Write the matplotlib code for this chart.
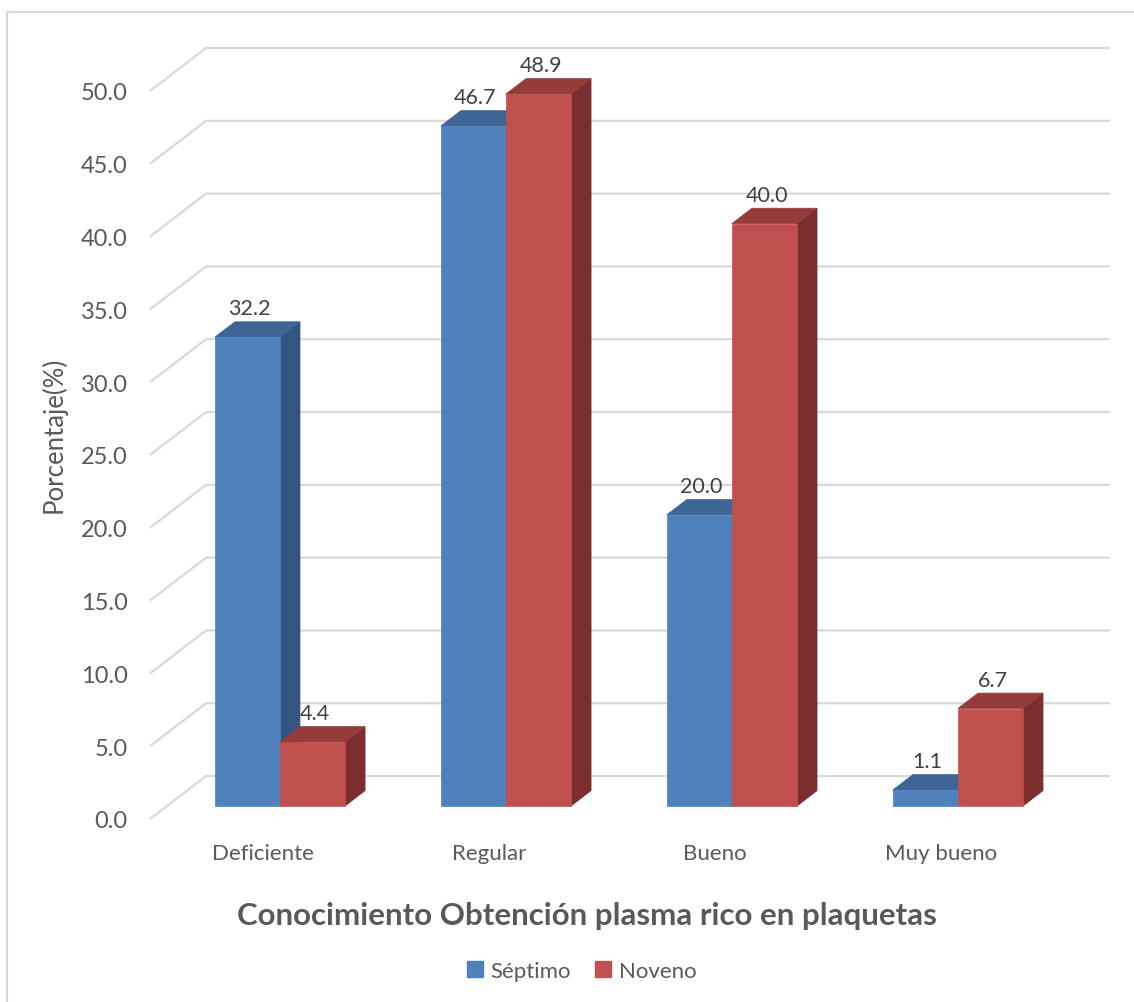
import numpy as np
import matplotlib.pyplot as plt
from matplotlib.patches import Polygon
from matplotlib.lines import Line2D

plt.rcParams['font.family'] = ['Lato', 'DejaVu Sans']

categorias = ['Deficiente', 'Regular', 'Bueno', 'Muy bueno']
septimo = [32.2, 46.7, 20.0, 1.1]
noveno = [4.4, 48.9, 40.0, 6.7]
series = ['Séptimo', 'Noveno']
yticks = np.arange(0, 50.1, 5)

# colours: front, top, side faces
col_sep = ('#4F81BD', '#3D6695', '#34557F')
col_nov = ('#C0504D', '#953B39', '#7B2E2D')

# oblique depth of the plot box, in data units
DX = 0.248
DY = 2.95
# bars sit between these depth fractions
D0, D1 = 0.30, 0.66
BW = 0.288

fig = plt.figure(figsize=(11.34, 10.03), dpi=100)
W, H = 1134, 1003
ax = fig.add_axes([150 / W, 1 - 820 / H, 960 / W, 771 / H])
ax.set_xlim(-0.5, 3.5 + DX)
ax.set_ylim(0, 50 + DY)
for s in ax.spines.values():
    s.set_visible(False)

gris = '#d9d9d9'
for v in yticks:
    ax.plot([-0.5, -0.5 + DX, 3.5 + DX], [v, v + DY, v + DY], color=gris,
            lw=1.6, zorder=1, solid_capstyle='butt', clip_on=False)

ax.set_yticks(yticks)
ax.set_yticklabels(['%.1f' % v for v in yticks], fontsize=17, color='#595959')
ax.tick_params(axis='y', length=0, pad=16)
ax.set_xticks(range(len(categorias)))
ax.set_xticklabels(categorias, fontsize=16, color='#595959')
ax.tick_params(axis='x', length=0, pad=17)
ax.set_ylabel('Porcentaje(%)', fontsize=18.5, color='#595959', labelpad=10)


def bar3d(x0, v, cols, z):
    f, t, s = cols
    ox0, oy0 = D0 * DX, D0 * DY
    ox1, oy1 = D1 * DX, D1 * DY
    x1 = x0 + BW
    front = [(x0 + ox0, oy0), (x1 + ox0, oy0), (x1 + ox0, v + oy0), (x0 + ox0, v + oy0)]
    top = [(x0 + ox0, v + oy0), (x1 + ox0, v + oy0), (x1 + ox1, v + oy1), (x0 + ox1, v + oy1)]
    side = [(x1 + ox0, oy0), (x1 + ox1, oy1), (x1 + ox1, v + oy1), (x1 + ox0, v + oy0)]
    for pts, c in [(side, s), (top, t), (front, f)]:
        ax.add_patch(Polygon(pts, closed=True, facecolor=c, edgecolor=c,
                             lw=0.5, zorder=z, clip_on=False))
    # label above the back edge of the top face
    xc = x0 + BW / 2 + ox0 + 0.01
    ax.annotate('%.1f' % v, (xc, v + oy1), xytext=(0, 2.5), textcoords='offset points',
                ha='center', va='bottom', fontsize=15.5, color='#404040', zorder=10)


for i in range(len(categorias)):
    bar3d(i - BW, septimo[i], col_sep, 3 + 2 * i)
    bar3d(i, noveno[i], col_nov, 4 + 2 * i)

fig.text(587 / W, 1 - 916 / H, 'Conocimiento Obtención plasma rico en plaquetas',
         ha='center', va='center', fontsize=22.5, fontweight='bold', color='#595959')

handles = [Line2D([], [], marker='s', ls='', markersize=11, color=c[0]) for c in (col_sep, col_nov)]
fig.legend(handles, series, loc='center', bbox_to_anchor=(582 / W, 1 - 972 / H),
           ncol=2, frameon=False, fontsize=16, handlelength=0.7, handletextpad=0.35,
           columnspacing=1.1, labelcolor='#595959')

# chart frame
fig.add_artist(Line2D([7 / W, 1], [1 - 13 / H, 1 - 13 / H], color=gris, lw=1.5))
fig.add_artist(Line2D([7 / W, 7 / W], [0, 1 - 13 / H], color=gris, lw=1.5))

fig.savefig('out.png', dpi=100)
